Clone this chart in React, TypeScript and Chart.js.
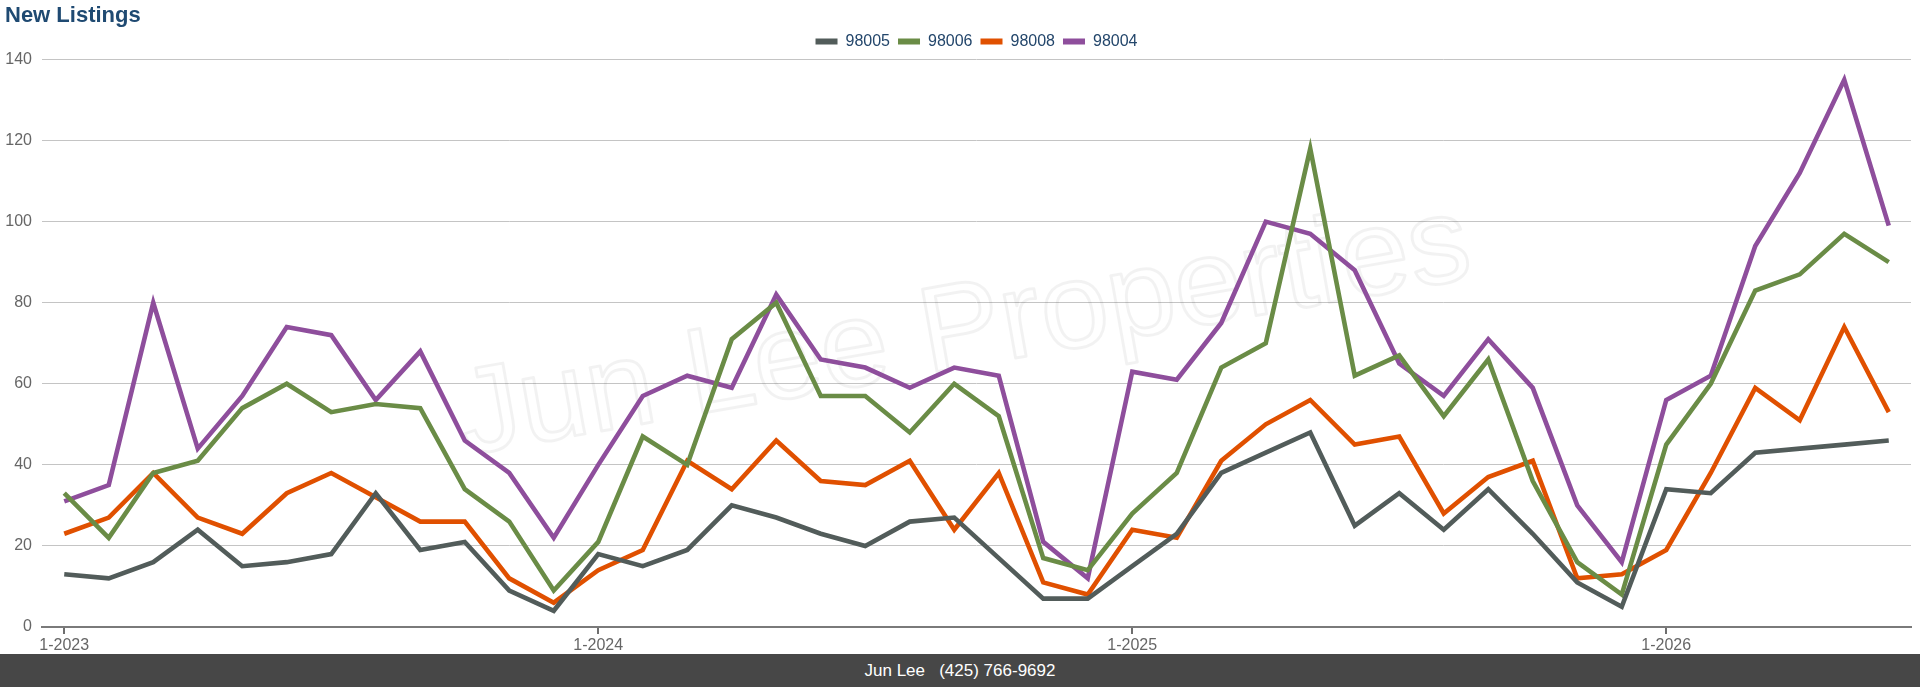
import React, { useEffect, useRef } from 'react';
import { Chart, registerables } from 'chart.js';

Chart.register(...registerables);

const FONT = '"Liberation Sans", Arial, Helvetica, sans-serif';

const months = [
  '1-2023', '2-2023', '3-2023', '4-2023', '5-2023', '6-2023', '7-2023', '8-2023', '9-2023', '10-2023', '11-2023', '12-2023',
  '1-2024', '2-2024', '3-2024', '4-2024', '5-2024', '6-2024', '7-2024', '8-2024', '9-2024', '10-2024', '11-2024', '12-2024',
  '1-2025', '2-2025', '3-2025', '4-2025', '5-2025', '6-2025', '7-2025', '8-2025', '9-2025', '10-2025', '11-2025', '12-2025',
  '1-2026', '2-2026', '3-2026', '4-2026', '5-2026', '6-2026',
];

const seriesNames = ['98005', '98006', '98008', '98004'];

const s98005 = [13, 12, 16, 24, 15, 16, 18, 33, 19, 21, 9, 4, 18, 15, 19, 30, 27, 23, 20, 26, 27, 17, 7, 7, 15, 23, 38, 43, 48, 25, 33, 24, 34, 23, 11, 5, 34, 33, 43, 44, 45, 46];
const s98006 = [33, 22, 38, 41, 54, 60, 53, 55, 54, 34, 26, 9, 21, 47, 40, 71, 80, 57, 57, 48, 60, 52, 17, 14, 28, 38, 64, 70, 118, 62, 67, 52, 66, 36, 16, 8, 45, 60, 83, 87, 97, 90];
const s98008 = [23, 27, 38, 27, 23, 33, 38, 32, 26, 26, 12, 6, 14, 19, 41, 34, 46, 36, 35, 41, 24, 38, 11, 8, 24, 22, 41, 50, 56, 45, 47, 28, 37, 41, 12, 13, 19, 38, 59, 51, 74, 53];
const s98004 = [31, 35, 80, 44, 57, 74, 72, 56, 68, 46, 38, 22, 40, 57, 62, 59, 82, 66, 64, 59, 64, 62, 21, 12, 63, 61, 75, 100, 97, 88, 65, 57, 71, 59, 30, 16, 56, 62, 94, 112, 135, 99];

const seriesValues = [s98005, s98006, s98008, s98004];
const seriesColors = ['#525c5a', '#6a8c46', '#e05000', '#8e4e9c'];

const yMin = 0;
const yMax = 140;
const yStep = 20;

const titleText = 'New Listings';
const watermarkText = 'Jun Lee Properties';
const footerText = 'Jun Lee   (425) 766-9692';

const watermarkPlugin = {
  id: 'watermark',
  beforeDatasetsDraw(chart: any) {
    const { ctx, chartArea } = chart;
    const cx = (chartArea.left + chartArea.right) / 2 - 6;
    const cy = chartArea.top + (chartArea.bottom - chartArea.top) * 0.54;
    ctx.save();
    ctx.translate(cx, cy);
    ctx.rotate((-10 * Math.PI) / 180);
    ctx.font = `122px ${FONT}`;
    ctx.textAlign = 'center';
    ctx.textBaseline = 'alphabetic';
    ctx.lineJoin = 'round';
    ctx.lineWidth = 3;
    ctx.strokeStyle = 'rgba(0,0,0,0.05)';
    ctx.strokeText(watermarkText, 0, 0);
    ctx.restore();
  },
};

export default function App() {
  const canvasRef = useRef<HTMLCanvasElement | null>(null);

  useEffect(() => {
    document.body.style.margin = '0';
    const canvas = canvasRef.current;
    if (!canvas) return;
    const chart = new Chart(canvas, {
      type: 'line',
      data: {
        labels: months,
        datasets: seriesNames.map((name, i) => ({
          label: name,
          data: seriesValues[i],
          borderColor: seriesColors[i],
          backgroundColor: seriesColors[i],
          borderWidth: 4.6,
          pointRadius: 0,
          tension: 0,
          fill: false,
        })),
      },
      options: {
        animation: false,
        responsive: true,
        maintainAspectRatio: false,
        events: [],
        layout: { padding: { left: 5, right: 9, top: 0, bottom: 0 } },
        plugins: {
          title: {
            display: true,
            text: titleText,
            align: 'start',
            color: '#1f4a72',
            font: { family: FONT, size: 22, weight: 'bold', lineHeight: 1.2 },
            padding: { top: 2.6, bottom: -3.5 },
          },
          legend: {
            display: true,
            position: 'top',
            fullSize: false,
            labels: {
              boxWidth: 22,
              boxHeight: 6,
              padding: 8,
              color: '#23466b',
              font: { family: FONT, size: 16 },
              generateLabels: (c: any) =>
                (Chart.defaults.plugins.legend.labels.generateLabels as any)(c).map((it: any) => ({ ...it, lineWidth: 0 })),
            },
          },
          tooltip: { enabled: false },
        },
        scales: {
          x: {
            offset: true,
            afterFit: (scale: any) => {
              scale.height = 27;
            },
            grid: {
              drawOnChartArea: false,
              drawTicks: true,
              tickLength: 7,
              offset: false,
              lineWidth: 2,
              color: (ctx: any) => (ctx.index % 12 === 0 ? '#6e6e6e' : 'rgba(0,0,0,0)'),
            },
            border: { display: true, color: '#7a7a7a', width: 2 },
            ticks: {
              autoSkip: false,
              maxRotation: 0,
              minRotation: 0,
              padding: 2,
              color: '#666666',
              font: { family: FONT, size: 16 },
              callback: (_v: any, idx: number) => (idx % 12 === 0 ? months[idx] : ''),
            },
          },
          y: {
            min: yMin,
            max: yMax,
            afterFit: (scale: any) => {
              scale.width = 37;
            },
            grid: {
              drawTicks: false,
              lineWidth: 1,
              color: (ctx: any) => (ctx.tick && ctx.tick.value === 0 ? 'rgba(0,0,0,0)' : '#c4c4c4'),
            },
            border: { display: false },
            ticks: {
              stepSize: yStep,
              padding: 10,
              color: '#666666',
              font: { family: FONT, size: 16 },
            },
          },
        },
      },
      plugins: [watermarkPlugin],
    } as any);
    return () => chart.destroy();
  }, []);

  return (
    <div style={{ width: 1920, height: 687, position: 'relative', background: '#ffffff' }}>
      <div style={{ width: 1920, height: 654, position: 'relative' }}>
        <canvas ref={canvasRef} />
      </div>
      <div
        style={{
          height: 33,
          background: '#474747',
          color: '#ffffff',
          fontFamily: FONT,
          fontSize: 17,
          lineHeight: '33px',
          textAlign: 'center',
          whiteSpace: 'pre',
        }}
      >
        {footerText}
      </div>
    </div>
  );
}
